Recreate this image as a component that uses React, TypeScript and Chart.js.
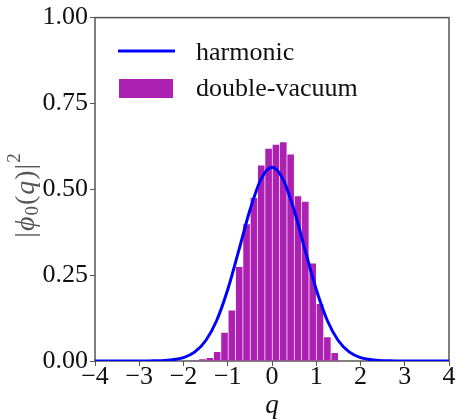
import React, { useEffect, useRef } from 'react';
import { Chart, registerables } from 'chart.js';

Chart.register(...registerables);

// Histogram (double-vacuum) bin centres and heights
const binCenters = [-1.737, -1.571, -1.405, -1.239, -1.073, -0.907, -0.741, -0.575, -0.409, -0.243, -0.077, 0.089, 0.255, 0.421, 0.587, 0.753, 0.919, 1.085, 1.251, 1.417];
const binHeights = [0.002, 0.005, 0.009, 0.026, 0.082, 0.147, 0.274, 0.398, 0.475, 0.569, 0.618, 0.630, 0.637, 0.601, 0.480, 0.464, 0.284, 0.166, 0.069, 0.023];

// Harmonic curve samples
const curveQ = [-4, -3.75, -3.5, -3.25, -3, -2.75, -2.5, -2.25, -2, -1.75, -1.5, -1.25, -1, -0.75, -0.5, -0.25, 0, 0.25, 0.5, 0.75, 1, 1.25, 1.5, 1.75, 2, 2.25, 2.5, 2.75, 3, 3.25, 3.5, 3.75, 4];
const curveVals = [0.0, 0.0, 0.0, 0.0, 0.0001, 0.0003, 0.001, 0.0036, 0.010, 0.026, 0.059, 0.118, 0.208, 0.322, 0.439, 0.529, 0.564, 0.529, 0.439, 0.322, 0.208, 0.118, 0.059, 0.026, 0.010, 0.0036, 0.001, 0.0003, 0.0001, 0.0, 0.0, 0.0, 0.0];

const xTickLabels = ['−4', '−3', '−2', '−1', '0', '1', '2', '3', '4'];
const yTickLabels = ['0.00', '0.25', '0.50', '0.75', '1.00'];
const seriesNames = ['harmonic', 'double-vacuum'];

const BAR_COLOR = 'rgb(172, 32, 178)';
const LINE_COLOR = '#0000ff';
const SERIF = '"Liberation Serif", "Times New Roman", serif';

const framePlugin = {
  id: 'frame',
  beforeDatasetsDraw(chart: any) {
    const { ctx, chartArea: a } = chart;
    ctx.save();
    ctx.strokeStyle = '#555';
    ctx.lineWidth = 1.5;
    ctx.strokeRect(a.left, a.top, a.right - a.left, a.bottom - a.top);
    ctx.restore();
  },
  afterDraw(chart: any) {
    const { ctx, chartArea: a } = chart;
    ctx.save();
    // legend
    ctx.strokeStyle = LINE_COLOR;
    ctx.lineWidth = 3;
    ctx.beginPath();
    ctx.moveTo(118, 51);
    ctx.lineTo(175, 51);
    ctx.stroke();
    ctx.fillStyle = BAR_COLOR;
    ctx.fillRect(119, 79, 54, 19);
    ctx.fillStyle = '#111';
    ctx.font = `26px ${SERIF}`;
    ctx.textBaseline = 'alphabetic';
    ctx.textAlign = 'left';
    ctx.fillText(seriesNames[0], 196, 60);
    ctx.fillText(seriesNames[1], 196, 96);

    // x label
    ctx.textBaseline = 'middle';
    ctx.font = `italic 27px ${SERIF}`;
    ctx.textAlign = 'center';
    ctx.fillText('q', (a.left + a.right) / 2, 406);

    // y label |phi_0(q)|^2 rotated
    ctx.translate(27, 195);
    ctx.rotate(-Math.PI / 2);
    ctx.fillStyle = '#555';
    const parts: { t: string; f: string; dy: number }[] = [
      { t: '|', f: `28px ${SERIF}`, dy: 0 },
      { t: 'ϕ', f: `italic 28px ${SERIF}`, dy: 0 },
      { t: '0', f: `19px ${SERIF}`, dy: 6 },
      { t: '(', f: `28px ${SERIF}`, dy: 0 },
      { t: 'q', f: `italic 28px ${SERIF}`, dy: 0 },
      { t: ')', f: `28px ${SERIF}`, dy: 0 },
      { t: '|', f: `28px ${SERIF}`, dy: 0 },
      { t: '2', f: `19px ${SERIF}`, dy: -12 },
    ];
    let total = 0;
    const widths = parts.map((p) => {
      ctx.font = p.f;
      const w = ctx.measureText(p.t).width + 1;
      total += w;
      return w;
    });
    let x = -total / 2;
    ctx.textAlign = 'left';
    parts.forEach((p, i) => {
      ctx.font = p.f;
      ctx.fillText(p.t, x, p.dy);
      x += widths[i];
    });
    ctx.restore();
  },
};

export default function App() {
  const ref = useRef<HTMLCanvasElement | null>(null);
  useEffect(() => {
    document.body.style.margin = '0';
    const canvas = ref.current!;
    const chart = new Chart(canvas, {
      type: 'bar',
      data: {
        datasets: [
          {
            type: 'line',
            label: seriesNames[0],
            data: curveQ.map((q, i) => ({ x: q, y: curveVals[i] })),
            borderColor: LINE_COLOR,
            borderWidth: 3,
            pointRadius: 0,
            cubicInterpolationMode: 'monotone',
            fill: false,
            order: 0,
          } as any,
          {
            type: 'bar',
            label: seriesNames[1],
            data: binCenters.map((c, i) => ({ x: c, y: binHeights[i] })),
            backgroundColor: BAR_COLOR,
            borderWidth: 0,
            barPercentage: 0.9,
            categoryPercentage: 1,
            order: 1,
          } as any,
        ],
      },
      options: {
        responsive: false,
        animation: false,
        layout: { padding: { left: 0, right: 7, top: 17, bottom: 0 } },
        plugins: { legend: { display: false }, tooltip: { enabled: false } },
        scales: {
          x: {
            type: 'linear',
            min: -4,
            max: 4,
            offset: false,
            afterFit: (s: any) => { s.height = 58; },
            grid: { drawOnChartArea: false, drawTicks: true, tickLength: 5, color: '#555', offset: false },
            border: { display: false },
            ticks: {
              stepSize: 1,
              padding: -4,
              color: '#111',
              font: { family: SERIF, size: 26 },
              maxRotation: 0,
              callback: (v: any) => xTickLabels[Math.round(Number(v)) + 4],
            },
          },
          y: {
            type: 'linear',
            min: 0,
            max: 1,
            afterFit: (s: any) => { s.width = 95; },
            grid: { drawOnChartArea: false, drawTicks: true, tickLength: 5, color: '#555' },
            border: { display: false },
            ticks: {
              stepSize: 0.25,
              padding: 2,
              color: '#111',
              font: { family: SERIF, size: 26 },
              callback: (_v: any, i: number) => yTickLabels[i],
            },
          },
        },
      } as any,
      plugins: [framePlugin],
    });
    return () => chart.destroy();
  }, []);
  return <canvas ref={ref} width={456} height={419} style={{ display: 'block' }} />;
}
